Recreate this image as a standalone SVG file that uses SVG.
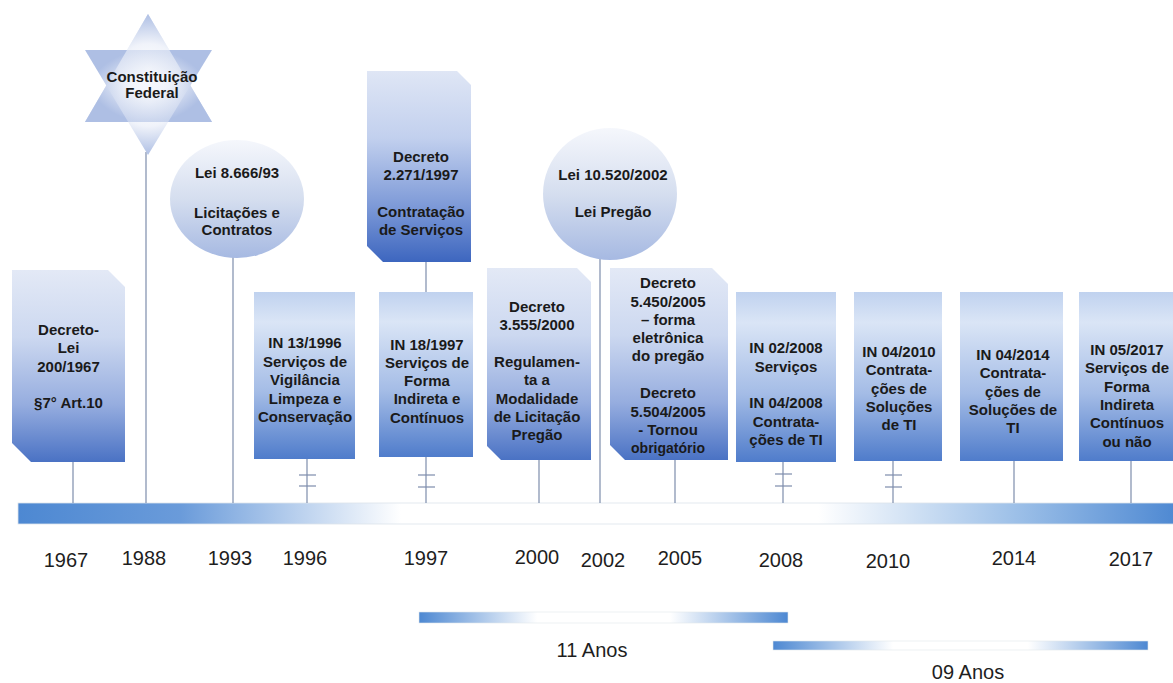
<svg xmlns="http://www.w3.org/2000/svg" width="1173" height="683" viewBox="0 0 1173 683">
<defs>
<linearGradient id="gSnip" x1="0" y1="0" x2="0" y2="1">
<stop offset="0" stop-color="#e3e9f6"/>
<stop offset="0.35" stop-color="#ccd8f0"/>
<stop offset="0.7" stop-color="#96addf"/>
<stop offset="1" stop-color="#4a72c4"/>
</linearGradient>
<linearGradient id="gSnipDark" x1="0" y1="0" x2="0" y2="1">
<stop offset="0" stop-color="#dfe6f5"/>
<stop offset="0.35" stop-color="#c2d0ee"/>
<stop offset="0.7" stop-color="#7f9bd8"/>
<stop offset="1" stop-color="#3d66bf"/>
</linearGradient>
<linearGradient id="gRect" x1="0" y1="0" x2="0" y2="1">
<stop offset="0" stop-color="#c0d2ef"/>
<stop offset="0.18" stop-color="#dae5f6"/>
<stop offset="0.6" stop-color="#a4bce6"/>
<stop offset="1" stop-color="#4f7ccb"/>
</linearGradient>
<linearGradient id="gCircle" x1="0" y1="0" x2="0" y2="1">
<stop offset="0" stop-color="#f5f7fc"/>
<stop offset="0.5" stop-color="#d5deef"/>
<stop offset="1" stop-color="#a6b9e2"/>
</linearGradient>
<radialGradient id="gStar" cx="0.5" cy="0.5" r="0.5">
<stop offset="0" stop-color="#ffffff"/>
<stop offset="0.45" stop-color="#f0f3fa"/>
<stop offset="1" stop-color="#aebfe4"/>
</radialGradient>
<linearGradient id="gBar" x1="0" y1="0" x2="1" y2="0">
<stop offset="0" stop-color="#4d88d2"/>
<stop offset="0.14" stop-color="#6a9bda"/>
<stop offset="0.33" stop-color="#ffffff"/>
<stop offset="0.69" stop-color="#ffffff"/>
<stop offset="0.86" stop-color="#9dc0e8"/>
<stop offset="1" stop-color="#4d88d2"/>
</linearGradient>
<linearGradient id="gSpan" x1="0" y1="0" x2="1" y2="0">
<stop offset="0" stop-color="#4d88d2"/>
<stop offset="0.32" stop-color="#ffffff"/>
<stop offset="0.68" stop-color="#ffffff"/>
<stop offset="1" stop-color="#4d88d2"/>
</linearGradient>
</defs>
<style>
.t{font-family:"Liberation Sans",Arial,sans-serif;font-weight:bold;font-size:15px;fill:#1a1a1a;text-anchor:middle}
.y{font-family:"Liberation Sans",Arial,sans-serif;font-size:20px;fill:#1e1e1e;text-anchor:middle}
.c{stroke:#7d8dac;stroke-width:1.2;fill:none}
</style>
<rect width="1173" height="683" fill="#ffffff"/>

<g id="timeline">
<rect x="18" y="503" width="1160" height="21" fill="url(#gBar)" stroke="#dde3ec" stroke-width="0.8"/>
<rect x="419" y="612" width="369" height="11" fill="url(#gSpan)" stroke="#e2e6ec" stroke-width="0.6"/>
<rect x="773" y="641" width="375" height="9" fill="url(#gSpan)" stroke="#e2e6ec" stroke-width="0.6"/>
<text class="y" x="66" y="567">1967</text>
<text class="y" x="144" y="565">1988</text>
<text class="y" x="230" y="565">1993</text>
<text class="y" x="305" y="565">1996</text>
<text class="y" x="426" y="565">1997</text>
<text class="y" x="537" y="564">2000</text>
<text class="y" x="603" y="567">2002</text>
<text class="y" x="680" y="565">2005</text>
<text class="y" x="781" y="567">2008</text>
<text class="y" x="888" y="568">2010</text>
<text class="y" x="1014" y="565">2014</text>
<text class="y" x="1131" y="566">2017</text>
<text class="y" x="592" y="657">11 Anos</text>
<text class="y" x="968" y="679">09 Anos</text>
</g>

<g id="connectors">
<line class="c" x1="73" y1="462" x2="73" y2="503"/>
<line class="c" x1="146" y1="152" x2="146" y2="503"/>
<line class="c" x1="233" y1="257" x2="233" y2="503"/>
<line class="c" x1="307" y1="459" x2="307" y2="503"/>
<line class="c" x1="299" y1="475" x2="316" y2="475"/>
<line class="c" x1="299" y1="486" x2="316" y2="486"/>
<line class="c" x1="426" y1="262" x2="426" y2="292"/>
<line class="c" x1="426" y1="457" x2="426" y2="503"/>
<line class="c" x1="418" y1="475" x2="435" y2="475"/>
<line class="c" x1="418" y1="487" x2="435" y2="487"/>
<line class="c" x1="539" y1="460" x2="539" y2="503"/>
<line class="c" x1="600" y1="259" x2="600" y2="503"/>
<line class="c" x1="675" y1="460" x2="675" y2="503"/>
<line class="c" x1="783" y1="462" x2="783" y2="503"/>
<line class="c" x1="775" y1="474" x2="792" y2="474"/>
<line class="c" x1="775" y1="486" x2="792" y2="486"/>
<line class="c" x1="893" y1="461" x2="893" y2="503"/>
<line class="c" x1="885" y1="475" x2="902" y2="475"/>
<line class="c" x1="885" y1="487" x2="902" y2="487"/>
<line class="c" x1="1014" y1="461" x2="1014" y2="503"/>
<line class="c" x1="1131" y1="461" x2="1131" y2="503"/>
</g>

<g id="n1967">
<path d="M12 270 H108 L125 287 V462 H31 L12 443 Z" fill="url(#gSnip)"/>
<text class="t" x="68.5" y="335">Decreto-</text>
<text class="t" x="68.5" y="353">Lei</text>
<text class="t" x="68.5" y="372">200/1967</text>
<text class="t" x="68.5" y="408">§7° Art.10</text>
</g>

<g id="n1988">
<polygon points="148,14 212,122 85,122" fill="url(#gStar)"/>
<polygon points="148,155 85,50 212,50" fill="url(#gStar)"/>
<polygon points="148,14 212,122 85,122" fill="url(#gStar)" opacity="0.6"/>
<text class="t" x="152" y="82">Constituição</text>
<text class="t" x="152" y="98">Federal</text>
</g>

<g id="n1993">
<ellipse cx="237" cy="199" rx="67" ry="59" fill="url(#gCircle)"/>
<text class="t" x="237" y="178">Lei 8.666/93</text>
<text class="t" x="237" y="218">Licitações e</text>
<text class="t" x="237" y="235">Contratos</text>
</g>

<g id="n1996">
<rect x="254" y="292" width="101" height="167" fill="url(#gRect)"/>
<text class="t" x="305" y="348">IN 13/1996</text>
<text class="t" x="305" y="366.5">Serviços de</text>
<text class="t" x="305" y="385">Vigilância</text>
<text class="t" x="305" y="403.5">Limpeza e</text>
<text class="t" x="305" y="422">Conservação</text>
</g>

<g id="n1997a">
<path d="M367 71 H457 L471 85 V262 H383 L367 246 Z" fill="url(#gSnipDark)"/>
<text class="t" x="421" y="162">Decreto</text>
<text class="t" x="421" y="180">2.271/1997</text>
<text class="t" x="421" y="217">Contratação</text>
<text class="t" x="421" y="235">de Serviços</text>
</g>

<g id="n1997b">
<rect x="379" y="292" width="94" height="165" fill="url(#gRect)"/>
<text class="t" x="427" y="350">IN 18/1997</text>
<text class="t" x="427" y="367.5">Serviços de</text>
<text class="t" x="427" y="386">Forma</text>
<text class="t" x="427" y="404">Indireta e</text>
<text class="t" x="427" y="422.5">Contínuos</text>
</g>

<g id="n2000">
<path d="M487 268 H577 L591 282 V460 H501 L487 446 Z" fill="url(#gSnip)"/>
<text class="t" x="537" y="312">Decreto</text>
<text class="t" x="537" y="330">3.555/2000</text>
<text class="t" x="537" y="367">Regulamen-</text>
<text class="t" x="537" y="385">ta a</text>
<text class="t" x="537" y="403.5">Modalidade</text>
<text class="t" x="537" y="422">de Licitação</text>
<text class="t" x="537" y="440">Pregão</text>
</g>

<g id="n2002">
<ellipse cx="610" cy="194" rx="67" ry="66" fill="url(#gCircle)"/>
<text class="t" x="613" y="180">Lei 10.520/2002</text>
<text class="t" x="613" y="217">Lei Pregão</text>
</g>

<g id="n2005">
<path d="M610 268 H712 L728 284 V460 H625 L610 445 Z" fill="url(#gSnip)"/>
<text class="t" x="668" y="288">Decreto</text>
<text class="t" x="668" y="307">5.450/2005</text>
<text class="t" x="668" y="325">– forma</text>
<text class="t" x="668" y="343">eletrônica</text>
<text class="t" x="668" y="361">do pregão</text>
<text class="t" x="668" y="398">Decreto</text>
<text class="t" x="668" y="417">5.504/2005</text>
<text class="t" x="668" y="435">- Tornou</text>
<text class="t" x="668" y="453" style="font-size:14px">obrigatório</text>
</g>

<g id="n2008">
<rect x="736" y="292" width="100" height="170" fill="url(#gRect)"/>
<text class="t" x="786" y="353">IN 02/2008</text>
<text class="t" x="786" y="372">Serviços</text>
<text class="t" x="786" y="408">IN 04/2008</text>
<text class="t" x="786" y="427">Contrata-</text>
<text class="t" x="786" y="445">ções de TI</text>
</g>

<g id="n2010">
<rect x="854" y="292" width="88" height="169" fill="url(#gRect)"/>
<text class="t" x="899" y="357">IN 04/2010</text>
<text class="t" x="899" y="375">Contrata-</text>
<text class="t" x="899" y="393.5">ções de</text>
<text class="t" x="899" y="412">Soluções</text>
<text class="t" x="899" y="430">de TI</text>
</g>

<g id="n2014">
<rect x="960" y="292" width="103" height="169" fill="url(#gRect)"/>
<text class="t" x="1013" y="360">IN 04/2014</text>
<text class="t" x="1013" y="378">Contrata-</text>
<text class="t" x="1013" y="397">ções de</text>
<text class="t" x="1013" y="415">Soluções de</text>
<text class="t" x="1013" y="433">TI</text>
</g>

<g id="n2017">
<rect x="1079" y="292" width="104" height="169" fill="url(#gRect)"/>
<text class="t" x="1127" y="355">IN 05/2017</text>
<text class="t" x="1127" y="373">Serviços de</text>
<text class="t" x="1127" y="392">Forma</text>
<text class="t" x="1127" y="410">Indireta</text>
<text class="t" x="1127" y="428">Contínuos</text>
<text class="t" x="1127" y="447">ou não</text>
</g>
</svg>
